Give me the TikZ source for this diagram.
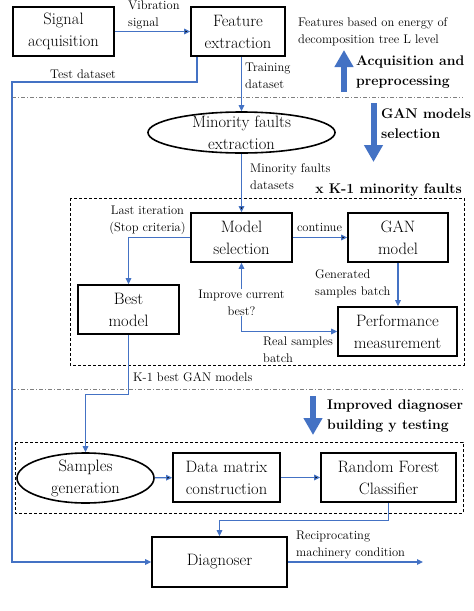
\documentclass[tikz,border=0pt]{standalone}
\usepackage{xcolor}
\usepackage{tikz}
\usetikzlibrary{arrows}
\usetikzlibrary{arrows.meta}
\usetikzlibrary{positioning}
\usetikzlibrary{shapes.geometric}
\definecolor{linblau}{RGB}{68,114,196}

\begin{document}
\begin{tikzpicture}
    [x=1pt, y=-1pt,
      % Stil für Blöcke
      op/.style={rectangle, draw=black, line width=1.6pt, align=center, inner sep=0pt, minimum height=49pt, font=\fontsize{16.5}{22}\selectfont},
      % Stil für Ellipsen
      el/.style={ellipse, draw=black, line width=1.6pt, align=center, inner xsep=11pt, inner ysep=-4pt, font=\fontsize{16.5}{22}\selectfont},
      % Stil für Beschriftungen
      lb/.style={align=left, anchor=west, inner sep=0pt, font=\fontsize{12.5}{17}\selectfont},
      ph/.style={align=left, anchor=west, inner sep=0pt, font=\bfseries\fontsize{14}{20}\selectfont},
      % Stil für Pfeile und Rahmen
      flow/.style={draw=linblau, line width=1.1pt, -{Triangle[length=6pt,width=5.5pt]}},
      pf/.style={draw=linblau, line width=6pt, -{Triangle[length=17pt,width=18pt]}},
      tr/.style={draw=gray, line width=0.7pt, dash pattern=on 4pt off 2pt on 1pt off 2pt},
      gr/.style={draw=black, line width=0.9pt, dash pattern=on 3pt off 2pt},
      node distance=4mm]
    \useasboundingbox (0,0) rectangle (474,611);
    % Knoten
    \node[op, minimum width=101pt] (signal) at (63.5,31.5) {Signal\\acquisition};
    \node[op, minimum width=94pt] (feature) at (238,31.5) {Feature\\extraction};
    \node[el, minimum width=187pt, minimum height=41pt] (minority) at (241.5,132.5) {Minority faults\\extraction};
    \node[op, minimum width=101pt] (modsel) at (241.5,237.5) {Model\\selection};
    \node[op, minimum width=100pt] (gan) at (398,237.5) {GAN\\model};
    \node[op, minimum width=101pt] (best) at (128.5,309.5) {Best\\model};
    \node[op, minimum width=119pt] (perf) at (397.5,331.5) {Performance\\measurement};
    \node[el, minimum width=137pt, minimum height=50pt, inner ysep=-1pt] (samples) at (85.5,478) {Samples\\generation};
    \node[op, minimum width=107pt] (datamat) at (226.5,477.5) {Data matrix\\construction};
    \node[op, minimum width=135pt] (forest) at (388.5,477.5) {Random Forest\\Classifier};
    \node[op, minimum width=135pt, minimum height=50pt] (diag) at (219.5,562) {Diagnoser};

    % Beschriftungen
    \node[lb] (vib) at (128,15) {Vibration\\signal};
    \node[lb] (test) at (50,74) {Test dataset};
    \node[lb] (train) at (245,75.5) {Training\\dataset};
    \node[lb] (energy) at (298,31.5) {Features based on energy of\\decomposition tree L level};
    \node[lb] (mdata) at (250,176.5) {Minority faults\\datasets};
    \node[lb, align=center, anchor=center] (last) at (147.5,220) {Last iteration\\(Stop criteria)};
    \node[lb, anchor=center] (cont) at (319.5,227) {continue};
    \node[lb, align=center, anchor=center] (improve) at (241.5,302.5) {Improve current\\best?};
    \node[lb] (gen) at (315,283.5) {Generated\\samples batch};
    \node[lb] (real) at (263,350) {Real samples\\batch};
    \node[lb] (kbest) at (133,377) {K-1 best GAN models};
    \node[lb] (recip) at (296,545) {Reciprocating\\machinery condition};
    \node[ph] (acq) at (356,72) {Acquisition and\\preprocessing};
    \node[ph] (gansel) at (381,123.5) {GAN models\\selection};
    \node[ph, anchor=east] (kfaults) at (462,190) {x K-1 minority faults};
    \node[ph] (impr) at (327,416.5) {Improved diagnoser\\building y testing};

    % Trennlinien und Rahmen
    \draw[tr] (12,97) -- (463,97);
    \draw[tr] (12,389) -- (463,389);
    \draw[gr] (70,198) rectangle (464,365);
    \draw[gr] (15,442) rectangle (463,513);

    % Phasenpfeile
    \draw[pf] (344,92) -- (344,50);
    \draw[pf] (373.5,103) -- (373.5,162);
    \draw[pf] (313,396) -- (313,435);

    % Kanten
    \path[flow]
      (signal) edge (feature)
      (minority) edge (modsel)
      (modsel) edge (gan)
      (samples) edge (datamat)
      (datamat) edge (forest);

    \coordinate (testknick) at (12,82);
    \coordinate (zustand) at (423,562);
    \draw[flow] (feature.south -| minority.north) -- (minority.north);
    \draw[flow] (gan.south) -- (gan.south |- perf.north);
    \draw[flow] (modsel.west) -| (best.north);
    \draw[flow] (improve) -- (modsel);
    \draw[flow] (improve.south) |- (perf.west);
    \draw[flow] ([xshift=-41pt]feature.south) |- (testknick) |- (diag.west);
    \draw[flow] (best.south) -- ++(0,60) -| (samples.north);
    \draw[flow] (forest.south) -- ++(0,18) -| (diag.north);
    \draw[flow] (diag.east) -- (zustand);
  \end{tikzpicture}
\end{document}
